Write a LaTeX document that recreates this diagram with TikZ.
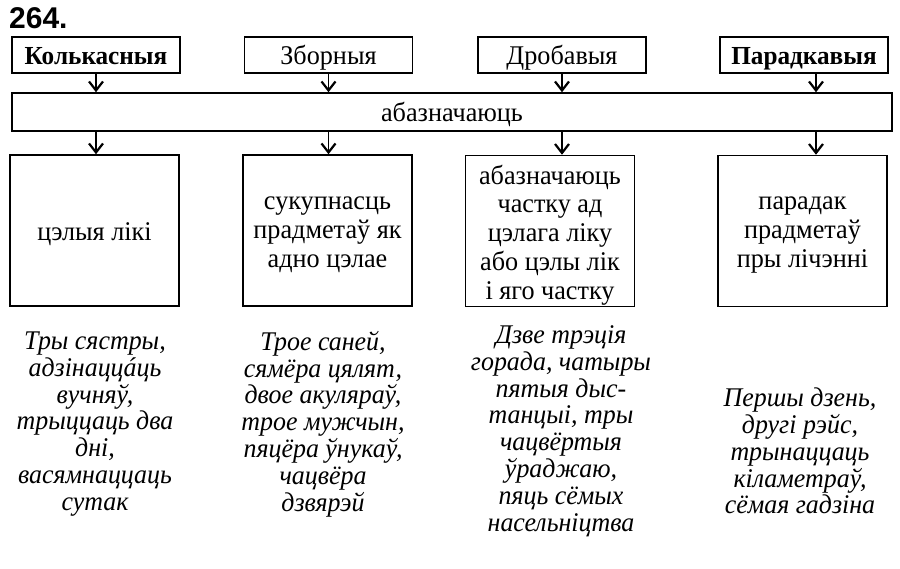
\documentclass[tikz,border=0pt]{standalone}
\usepackage{fontspec}
\setmainfont{Liberation Serif}[FakeStretch=0.97]
\newfontfamily\exfont{Liberation Serif}[FakeStretch=0.96]
\newfontfamily\numfont{Liberation Sans}
\usetikzlibrary{arrows.meta}
\begin{document}
\begin{tikzpicture}[x=1pt,y=-1pt,
  boxline/.style={draw, line width=1.5pt},
  topbox/.style={boxline, minimum width=168pt, minimum height=36pt, inner sep=0pt, text height=22pt, text depth=2pt, font=\fontsize{27}{30}\selectfont},
  widebox/.style={boxline, minimum width=880pt, minimum height=38pt, inner sep=0pt, text height=22pt, text depth=2pt, font=\fontsize{27}{30}\selectfont},
  lowbox/.style={boxline, minimum width=169pt, minimum height=151pt, inner sep=0pt},
  boxtext/.style={align=center, inner sep=0pt, font=\fontsize{27}{28.8}\selectfont},
  ex/.style={align=center, font=\exfont\itshape\fontsize{27}{26.8}\selectfont, inner sep=0pt},
  arr/.style={line width=1.1pt, -{Straight Barb[length=9pt,width=14pt,line width=2.2pt]}}
]
\useasboundingbox (0,0) rectangle (900,569);
\node[anchor=west, inner sep=0pt, font=\numfont\bfseries\fontsize{30}{32}\selectfont] (num) at (9,18) {264.};
% top boxes
\node[topbox, font=\bfseries\fontsize{26}{30}\selectfont] (k) at (96,55) {Колькасныя};
\node[topbox] (z) at (328.5,55) {Зборныя};
\node[topbox] (d) at (562,55) {Дробавыя};
\node[topbox, font=\bfseries\fontsize{26}{30}\selectfont] (p) at (804,55) {Парадкавыя};
\coordinate (pc) at ([xshift=12pt]p.south);
% wide box
\node[widebox] (a) at (452,112) {абазначаюць};
% lower boxes
\node[lowbox] (b1) at (94.5,230.5) {};
\node[lowbox] (b2) at (327.5,230.5) {};
\node[lowbox] (b3) at (550,231) {};
\node[lowbox] (b4) at (802.5,231) {};
\node[boxtext] (t1) at ([yshift=-4pt]b1.center) {цэлыя лікі};
\node[boxtext] (t2) at ([yshift=-4pt]b2.center) {сукупнасць\\ прадметаў як\\ адно цэлае};
\node[boxtext] (t3) at ([yshift=-4pt]b3.center) {абазначаюць\\ частку ад\\ цэлага ліку\\ або цэлы лік\\ і яго частку};
\node[boxtext] (t4) at ([yshift=-4pt]b4.center) {парадак\\ прадметаў\\ пры лічэнні};
% arrows top -> wide
\draw[arr] (k.south) -- (k.south |- a.north);
\draw[arr] (z.south) -- (z.south |- a.north);
\draw[arr] (d.south) -- (d.south |- a.north);
\draw[arr] (pc) -- (pc |- a.north);
% arrows wide -> lower
\draw[arr] (a.south -| k.south) -- (b1.north -| k.south);
\draw[arr] (a.south -| z.south) -- (b2.north -| z.south);
\draw[arr] (a.south -| d.south) -- (b3.north -| d.south);
\draw[arr] (a.south -| pc) -- (b4.north -| pc);
% examples
\node[ex] (e1) at (95,424) {Тры сястры,\\ адзінаццáць\\ вучняў,\\ трыццаць два\\ дні,\\ васямнаццаць\\ сутак};
\node[ex] (e2) at (323,424) {Трое саней,\\ сямёра цялят,\\ двое акуляраў,\\ трое мужчын,\\ пяцёра ўнукаў,\\ чацвёра\\ дзвярэй};
\node[ex] (e3) at (561,431) {Дзве трэція\\ горада, чатыры\\ пятыя дыс-\\ танцыі, тры\\ чацвёртыя\\ ўраджаю,\\ пяць сёмых\\ насельніцтва};
\node[ex] (e4) at (800,451) {Першы дзень,\\ другі рэйс,\\ трынаццаць\\ кіламетраў,\\ сёмая гадзіна};
\end{tikzpicture}
\end{document}
